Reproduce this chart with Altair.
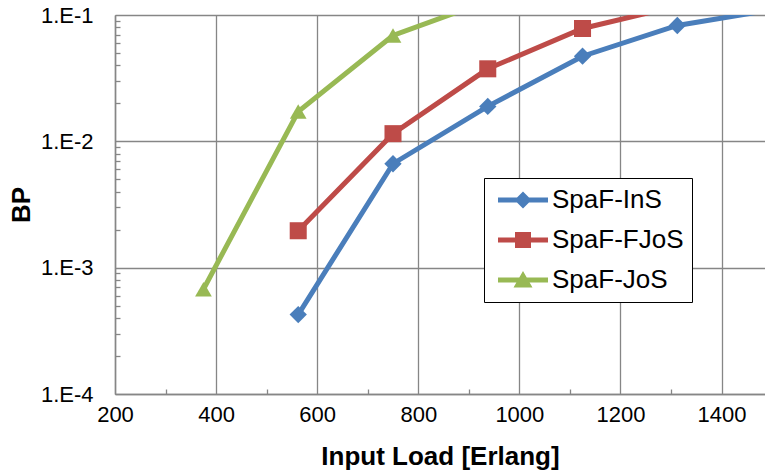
import altair as alt
import pandas as pd

# ---- data ----
loads = [375, 562.5, 750, 937.5, 1125, 1312.5, 1500]
series = ["SpaF-InS", "SpaF-FJoS", "SpaF-JoS"]
bp_ins = [None, 4.25e-4, 6.65e-3, 0.0189, 0.0472, 0.0826, 0.11]
bp_fjos = [None, 1.96e-3, 0.0115, 0.0375, 0.0782, 0.118, None]
bp_jos = [6.75e-4, 0.0172, 0.0689, 0.129, None, None, None]

x_ticks = [200, 400, 600, 800, 1000, 1200, 1400]
x_minor = [300, 500, 700, 900, 1100, 1300]
y_ticks = [1e-4, 1e-3, 1e-2, 1e-1]
y_minor = [m * 10.0 ** e for e in (-4, -3, -2) for m in range(2, 10)]

colors = ["#4A7EBB", "#BE4B48", "#98B954"]
shapes = ["diamond", "square", "triangle-up"]
sizes = [300, 280, 320]
# legend symbols: line segment with the marker in the middle
legend_paths = [
    "M-1,-0.1L1,-0.1L1,0.1L-1,0.1Z M0,-0.34L0.34,0L0,0.34L-0.34,0Z",
    "M-1,-0.1L1,-0.1L1,0.1L-1,0.1Z M-0.32,-0.32L0.32,-0.32L0.32,0.32L-0.32,0.32Z",
    "M-1,-0.1L1,-0.1L1,0.1L-1,0.1Z M0,-0.36L0.38,0.3L-0.38,0.3Z",
]

rows = []
for name, vals in zip(series, [bp_ins, bp_fjos, bp_jos]):
    for x, v in zip(loads, vals):
        if v is not None:
            rows.append({"series": name, "load": x, "bp": v})
df = pd.DataFrame(rows)

FONT = "Liberation Sans"
GRID = "#868686"
W, H = 650, 379

xscale = alt.Scale(domain=[200, 1486], nice=False, zero=False)
yscale = alt.Scale(type="log", domain=[1e-4, 1e-1], nice=False)

x_axis = alt.Axis(
    values=x_ticks, grid=True, gridColor=GRID, gridWidth=1.3,
    domainColor=GRID, domainWidth=1.5, ticks=False, format="d",
    labelFont=FONT, labelFontSize=22, labelColor="black", labelPadding=10,
    labelFlush=False,
    title="Input Load [Erlang]", titleFont=FONT, titleFontSize=26,
    titleFontWeight="bold", titleColor="black", titlePadding=18,
)
y_axis = alt.Axis(
    values=y_ticks, grid=True, gridColor=GRID, gridWidth=1.3,
    domainColor=GRID, domainWidth=1.5, ticks=False,
    labelExpr="'1.E-' + round(-log(datum.value) / LN10)",
    labelFont=FONT, labelFontSize=22, labelColor="black", labelPadding=22,
    title="BP", titleFont=FONT, titleFontSize=26, titleFontWeight="bold",
    titleColor="black", titlePadding=6,
)

base = alt.Chart(df)

lines = base.mark_line(strokeWidth=5, clip=True).encode(
    x=alt.X("load:Q", scale=xscale, axis=x_axis),
    y=alt.Y("bp:Q", scale=yscale, axis=y_axis),
    color=alt.Color("series:N", scale=alt.Scale(domain=series, range=colors), legend=None),
    detail="series:N",
)

points = base.mark_point(filled=True, opacity=1, clip=True).encode(
    x=alt.X("load:Q", axis=alt.Axis(
        orient="top", offset=-H, values=x_minor, labels=False, grid=False,
        domain=False, ticks=True, tickSize=5, tickColor=GRID, tickWidth=1.3,
        title=None)),
    y=alt.Y("bp:Q", axis=alt.Axis(
        orient="right", offset=-W, values=y_minor, labels=False, grid=False,
        domain=False, ticks=True, tickSize=5, tickColor=GRID, tickWidth=1.3,
        title=None)),
    color=alt.Color("series:N", scale=alt.Scale(domain=series, range=colors), legend=None),
    shape=alt.Shape("series:N", scale=alt.Scale(domain=series, range=shapes), legend=None),
    size=alt.Size("series:N", scale=alt.Scale(domain=series, range=sizes), legend=None),
)

legend = alt.Legend(
    title=None, orient="none", legendX=369, legendY=163,
    padding=8, symbolOffset=6, clipHeight=28, rowPadding=12,
    symbolSize=2500, symbolStrokeWidth=0,
    labelFont=FONT, labelFontSize=26, labelColor="black", labelOffset=4,
    labelExpr="datum.label + '\u2007\u2007\u2007'",
    strokeColor="black", fillColor="white",
)

legend_layer = base.transform_filter("false").mark_point(filled=True, opacity=1).encode(
    x=alt.X("load:Q", axis=None),
    y=alt.Y("bp:Q", axis=None),
    color=alt.Color("series:N", scale=alt.Scale(domain=series, range=colors), legend=legend),
    shape=alt.Shape("series:N", scale=alt.Scale(domain=series, range=legend_paths), legend=legend),
)

chart = (
    alt.layer(lines, points, legend_layer)
    .resolve_scale(shape="independent", color="independent")
    .resolve_axis(x="independent", y="independent")
    .properties(
        width=W, height=H, autosize="none",
        padding={"left": 115, "top": 15, "right": 0, "bottom": 80},
    )
    .configure_view(stroke=GRID, strokeWidth=1.5)
    .configure(background="white")
)

chart.save("out.html", embed_options={"renderer": "svg", "actions": False})
